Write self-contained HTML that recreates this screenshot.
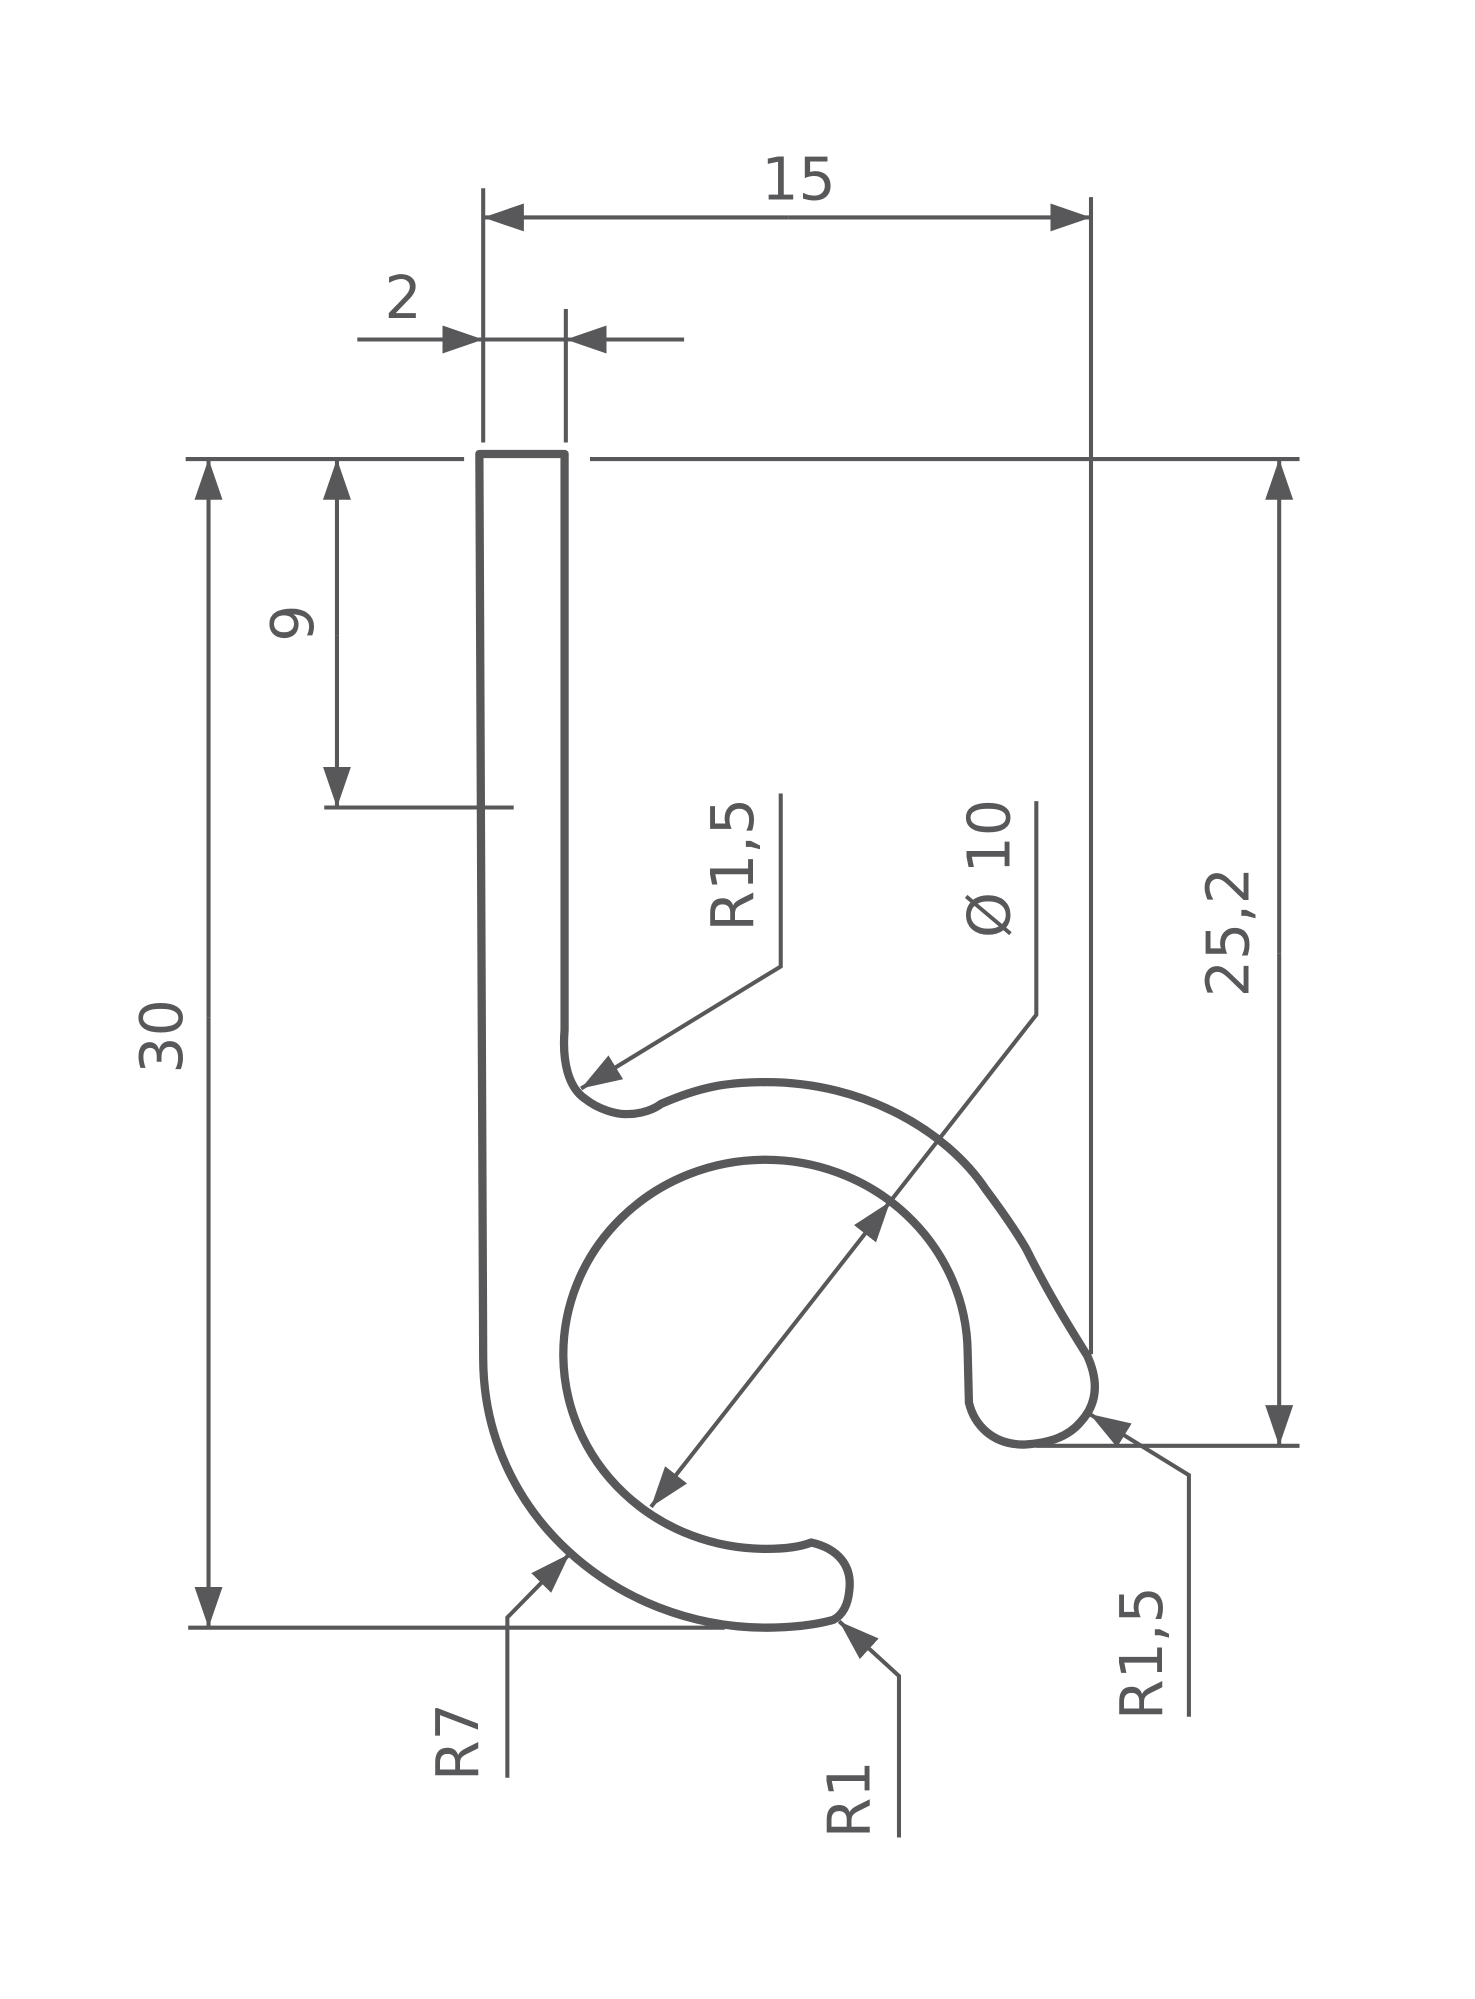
<!DOCTYPE html>
<html><head><meta charset="utf-8"><style>
html,body{margin:0;padding:0;background:#fff;}
svg{display:block;}
text{font-family:"DejaVu Sans","Liberation Sans",sans-serif;fill:#58585a;font-size:46px;}
</style></head><body>
<svg width="1475" height="1999" viewBox="0 0 1160 1572" preserveAspectRatio="none" xmlns="http://www.w3.org/2000/svg">
<defs>
<marker id="a" markerUnits="userSpaceOnUse" markerWidth="34" markerHeight="24" refX="32" refY="11" orient="auto">
<path d="M0,0 L32,11 L0,22 Z" fill="#58585a"/>
</marker>
</defs>
<g stroke="#58585a" stroke-width="3.2" fill="none">
<line x1="380" y1="148" x2="380" y2="348"/>
<line x1="858" y1="155" x2="858" y2="1065"/>
<line x1="620" y1="171" x2="380" y2="171" marker-end="url(#a)"/>
<line x1="620" y1="171" x2="858" y2="171" marker-end="url(#a)"/>
<line x1="445" y1="243" x2="445" y2="348"/>
<line x1="281" y1="267" x2="380" y2="267" marker-end="url(#a)"/>
<line x1="538" y1="267" x2="445" y2="267" marker-end="url(#a)"/>
<line x1="380" y1="267" x2="445" y2="267"/>
<line x1="146" y1="361" x2="365" y2="361"/>
<line x1="464" y1="361" x2="1022" y2="361"/>
<line x1="265" y1="500" x2="265" y2="361" marker-end="url(#a)"/>
<line x1="265" y1="500" x2="265" y2="635" marker-end="url(#a)"/>
<line x1="255" y1="635" x2="404" y2="635"/>
<line x1="164" y1="800" x2="164" y2="361" marker-end="url(#a)"/>
<line x1="164" y1="800" x2="164" y2="1280" marker-end="url(#a)"/>
<line x1="148" y1="1280" x2="570" y2="1280"/>
<line x1="1006" y1="750" x2="1006" y2="361" marker-end="url(#a)"/>
<line x1="1006" y1="750" x2="1006" y2="1137" marker-end="url(#a)"/>
<line x1="815" y1="1137" x2="1022" y2="1137"/>
<polyline points="614,624 614,760 457,856" marker-end="url(#a)"/>
<polyline points="815,630 815,798 700,945"/>
<line x1="606" y1="1065" x2="700" y2="945" marker-end="url(#a)"/>
<line x1="606" y1="1065" x2="512" y2="1185" marker-end="url(#a)"/>
<polyline points="935,1350 935,1160 857,1112" marker-end="url(#a)"/>
<polyline points="707,1445 707,1318 660,1275" marker-end="url(#a)"/>
<polyline points="399,1398 399,1272 448,1222" marker-end="url(#a)"/>
</g>
<path d="M380,1068 L377,357 L444,357 L444,810 C442,835 447,855 460,864 C470,872 485,877 495,876 C505,876 515,872 520,868 C550,855 570,851 603,851 C680,851 745,890 775,935 C790,955 800,970 807,982 C825,1018 840,1042 855,1066 C865,1088 862,1105 850,1118 C840,1130 825,1135 805,1136 C780,1136 766,1120 762,1103 L761,1063 A159,153 0 1 0 603,1218 C615,1218 628,1217 638,1213 C660,1218 670,1232 668,1250 C667,1262 663,1270 655,1274 C640,1278 622,1280 603,1280 C484,1280 380,1190 380,1068 Z" fill="none" stroke="#58585a" stroke-width="6.5" stroke-linejoin="round"/>
<text x="628" y="157" text-anchor="middle">15</text>
<text x="317" y="250" text-anchor="middle">2</text>
<text transform="translate(246,490) rotate(-90)" text-anchor="middle">9</text>
<text transform="translate(143,815) rotate(-90)" text-anchor="middle">30</text>
<text transform="translate(982,733) rotate(-90)" text-anchor="middle">25,2</text>
<text transform="translate(592,680) rotate(-90)" text-anchor="middle">R1,5</text>
<text transform="translate(794,683) rotate(-90)" text-anchor="middle">Ø 10</text>
<text transform="translate(914,1300) rotate(-90)" text-anchor="middle">R1,5</text>
<text transform="translate(684,1415) rotate(-90)" text-anchor="middle">R1</text>
<text transform="translate(376,1370) rotate(-90)" text-anchor="middle">R7</text>
</svg>
</body></html>
